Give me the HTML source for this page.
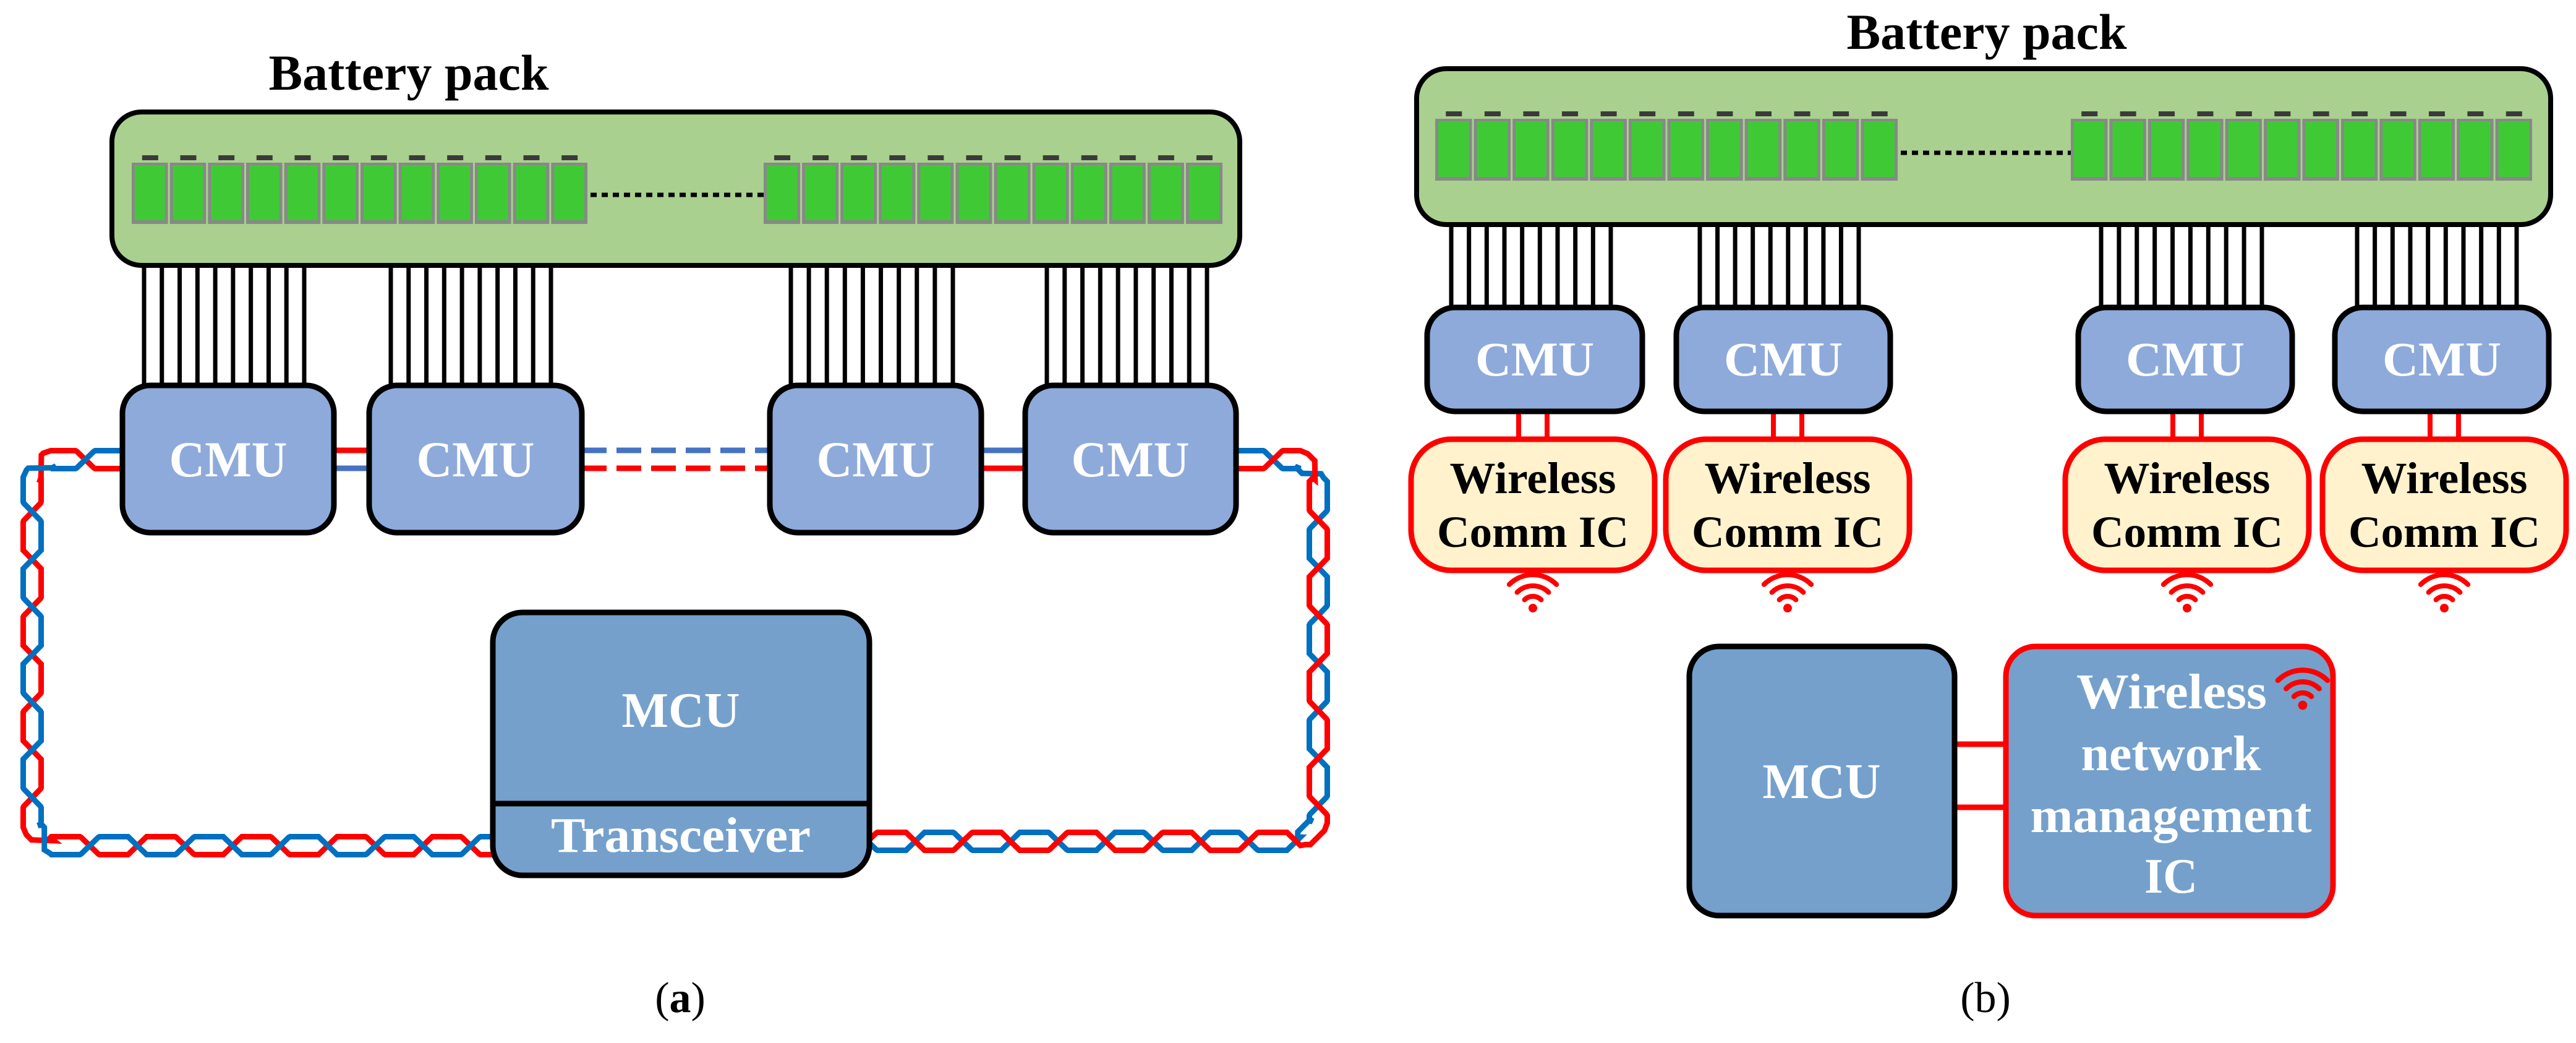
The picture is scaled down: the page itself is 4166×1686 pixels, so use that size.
<!DOCTYPE html>
<html><head><meta charset="utf-8"><style>
html,body{margin:0;padding:0;background:#fff;}
svg{display:block;}
text{font-family:"Liberation Serif",serif;font-weight:bold;}
</style></head><body>
<svg id="s" width="4166" height="1686" viewBox="0 0 4166 1686" xmlns="http://www.w3.org/2000/svg">
<g id="bg"></g>
<!-- (a) -->
<text x="661" y="145" font-size="82" text-anchor="middle" fill="#000" textLength="453" lengthAdjust="spacingAndGlyphs">Battery pack</text>
<rect x="181" y="181" width="1824" height="248" rx="48" fill="#a9d08e" stroke="#000" stroke-width="8"/>
<g id="cellsA"></g>
<line x1="955" y1="315" x2="1235" y2="315" stroke="#000" stroke-width="7" stroke-dasharray="10,8"/>
<g id="wiresA"></g>
<line x1="540" y1="728" x2="600" y2="728" stroke="#f00" stroke-width="9"/>
<line x1="540" y1="757" x2="600" y2="757" stroke="#4472c4" stroke-width="9"/>
<line x1="941" y1="728" x2="1245" y2="728" stroke="#4472c4" stroke-width="9" stroke-dasharray="40,16"/>
<line x1="941" y1="757" x2="1245" y2="757" stroke="#f00" stroke-width="9" stroke-dasharray="40,16"/>
<line x1="1587" y1="728" x2="1658" y2="728" stroke="#4472c4" stroke-width="9"/>
<line x1="1587" y1="757" x2="1658" y2="757" stroke="#f00" stroke-width="9"/>
<g id="braid"></g>
<g fill="#8eaadb" stroke="#000" stroke-width="9">
<rect x="198" y="623" width="342" height="238" rx="45"/>
<rect x="597" y="623" width="344" height="238" rx="45"/>
<rect x="1245" y="623" width="342" height="238" rx="45"/>
<rect x="1658" y="623" width="341" height="238" rx="45"/>
</g>
<g fill="#fff" font-size="82" text-anchor="middle">
<text x="369" y="770" textLength="191" lengthAdjust="spacingAndGlyphs">CMU</text><text x="769" y="770" textLength="191" lengthAdjust="spacingAndGlyphs">CMU</text><text x="1416" y="770" textLength="191" lengthAdjust="spacingAndGlyphs">CMU</text><text x="1828" y="770" textLength="191" lengthAdjust="spacingAndGlyphs">CMU</text>
</g>
<rect x="797" y="990" width="609" height="425" rx="48" fill="#75a0cc" stroke="#000" stroke-width="9"/>
<line x1="797" y1="1299" x2="1406" y2="1299" stroke="#000" stroke-width="9"/>
<text x="1101" y="1175" font-size="80" fill="#fff" text-anchor="middle" textLength="191" lengthAdjust="spacingAndGlyphs">MCU</text>
<text x="1101" y="1377" font-size="80" fill="#fff" text-anchor="middle" textLength="420" lengthAdjust="spacingAndGlyphs">Transceiver</text>
<text x="1100" y="1636" font-size="70" text-anchor="middle" style="font-weight:normal">(<tspan font-weight="bold">a</tspan>)</text>

<!-- (b) -->
<text x="3213" y="79" font-size="82" text-anchor="middle" fill="#000" textLength="453" lengthAdjust="spacingAndGlyphs">Battery pack</text>
<rect x="2291" y="111" width="1834" height="252" rx="48" fill="#a9d08e" stroke="#000" stroke-width="8"/>
<g id="cellsB"></g>
<line x1="3074" y1="247" x2="3349" y2="247" stroke="#000" stroke-width="7" stroke-dasharray="10,8"/>
<g id="wiresB"></g>
<g id="redB"></g>
<g fill="#8eaadb" stroke="#000" stroke-width="9">
<rect x="2308" y="497" width="348" height="168" rx="45"/>
<rect x="2711" y="497" width="346" height="168" rx="45"/>
<rect x="3361" y="497" width="346" height="168" rx="45"/>
<rect x="3776" y="497" width="346" height="168" rx="45"/>
</g>
<g fill="#fff" font-size="78" text-anchor="middle">
<text x="2482" y="607" textLength="192" lengthAdjust="spacingAndGlyphs">CMU</text><text x="2884" y="607" textLength="192" lengthAdjust="spacingAndGlyphs">CMU</text><text x="3534" y="607" textLength="192" lengthAdjust="spacingAndGlyphs">CMU</text><text x="3949" y="607" textLength="192" lengthAdjust="spacingAndGlyphs">CMU</text>
</g>
<g fill="#fff2cc" stroke="#f00" stroke-width="9">
<rect x="2282" y="710" width="394" height="212" rx="65"/>
<rect x="2694" y="710" width="394" height="212" rx="65"/>
<rect x="3340" y="710" width="394" height="212" rx="65"/>
<rect x="3756" y="710" width="394" height="212" rx="65"/>
</g>
<g fill="#000" font-size="72" text-anchor="middle">
<text x="2479" y="797" textLength="269" lengthAdjust="spacingAndGlyphs">Wireless</text><text x="2479" y="884" textLength="310" lengthAdjust="spacingAndGlyphs">Comm IC</text>
<text x="2891" y="797" textLength="269" lengthAdjust="spacingAndGlyphs">Wireless</text><text x="2891" y="884" textLength="310" lengthAdjust="spacingAndGlyphs">Comm IC</text>
<text x="3537" y="797" textLength="269" lengthAdjust="spacingAndGlyphs">Wireless</text><text x="3537" y="884" textLength="310" lengthAdjust="spacingAndGlyphs">Comm IC</text>
<text x="3953" y="797" textLength="269" lengthAdjust="spacingAndGlyphs">Wireless</text><text x="3953" y="884" textLength="310" lengthAdjust="spacingAndGlyphs">Comm IC</text>
</g>
<g id="wifi"></g>
<line x1="3161" y1="1203" x2="3244" y2="1203" stroke="#f00" stroke-width="9"/>
<line x1="3161" y1="1305" x2="3244" y2="1305" stroke="#f00" stroke-width="9"/>
<rect x="2732" y="1045" width="429" height="435" rx="48" fill="#75a0cc" stroke="#000" stroke-width="9"/>
<rect x="3244" y="1045" width="529" height="435" rx="48" fill="#75a0cc" stroke="#f00" stroke-width="9"/>
<text x="2946" y="1290" font-size="80" fill="#fff" text-anchor="middle" textLength="191" lengthAdjust="spacingAndGlyphs">MCU</text>
<g fill="#fff" font-size="80" text-anchor="middle">
<text x="3512" y="1145" textLength="308" lengthAdjust="spacingAndGlyphs">Wireless</text>
<text x="3511" y="1245" textLength="291" lengthAdjust="spacingAndGlyphs">network</text>
<text x="3511" y="1345" textLength="455" lengthAdjust="spacingAndGlyphs">management</text>
<text x="3511" y="1443" textLength="86" lengthAdjust="spacingAndGlyphs">IC</text>
</g>
<g id="wifi2"></g>
<text x="3211" y="1636" font-size="70" text-anchor="middle" style="font-weight:normal">(b)</text>
</svg>
<script>
var NS="http://www.w3.org/2000/svg";
function el(p,t,a){var e=document.createElementNS(NS,t);for(var k in a)e.setAttribute(k,a[k]);document.getElementById(p).appendChild(e);return e;}
function cells(id,x0,x1,y0,y1){var n=12,p=(x1-x0)/n;for(var i=0;i<n;i++){var x=x0+i*p;
el(id,'rect',{x:x,y:y0+12,width:p-3,height:y1-y0-12,fill:'#888'});
el(id,'rect',{x:x+5,y:y0+16,width:p-13,height:y1-y0-22,fill:'#3fca35'});
el(id,'rect',{x:x+p/2-14,y:y0,width:26,height:8,fill:'#3a3a3a'});}}
cells('cellsA',213,953,251,362);cells('cellsA',1235,1980,251,362);
cells('cellsB',2321,3072,180,292);cells('cellsB',3349,4098,180,292);
function wires(id,x0,x1,y0,y1){for(var i=0;i<10;i++){var x=x0+(x1-x0)*i/9;el(id,'line',{x1:x,y1:y0,x2:x,y2:y1,stroke:'#000','stroke-width':7});}}
wires('wiresA',233,492,430,625);wires('wiresA',632,891,430,625);wires('wiresA',1279,1541,430,625);wires('wiresA',1693,1952,430,625);
wires('wiresB',2347,2605,363,500);wires('wiresB',2749,3006,363,500);wires('wiresB',3398,3658,363,500);wires('wiresB',3812,4070,363,500);
[2479,2891,3537,3953].forEach(function(c){
el('redB','line',{x1:c-23,y1:665,x2:c-23,y2:712,stroke:'#f00','stroke-width':8});
el('redB','line',{x1:c+23,y1:665,x2:c+23,y2:712,stroke:'#f00','stroke-width':8});});
function wifi(g,cx,cy,s){
[54,36,19].forEach(function(r){r*=s;var a=Math.PI/4;
el(g,'path',{d:'M'+(cx-r*Math.sin(a))+' '+(cy-r*Math.cos(a))+' A'+r+' '+r+' 0 0 1 '+(cx+r*Math.sin(a))+' '+(cy-r*Math.cos(a)),fill:'none',stroke:'#f00','stroke-width':8*s,'stroke-linecap':'round'});});
el(g,'circle',{cx:cx,cy:cy,r:7*s,fill:'#f00'});}
[2479,2891,3537,3953].forEach(function(c){wifi('wifi',c,983,1);});
wifi('wifi2',3724,1140,1.05);
function braid(pts,phase,colA,colB){
var segs=[],L=0;for(var i=0;i<pts.length-1;i++){var dx=pts[i+1][0]-pts[i][0],dy=pts[i+1][1]-pts[i][1],l=Math.hypot(dx,dy);segs.push({p:pts[i],dx:dx/l,dy:dy/l,l:l,s:L});L+=l;}
function f(s){var t=((s+phase)%154+154)%154;if(t<47)return 1;if(t<77)return 1-2*(t-47)/30;if(t<124)return -1;return -1+2*(t-124)/30;}
var A=[],B=[];for(var s=0;s<=L;s+=2){var g=segs[0];for(var j=0;j<segs.length;j++)if(s>=segs[j].s)g=segs[j];
var x=g.p[0]+g.dx*(s-g.s),y=g.p[1]+g.dy*(s-g.s),nx=-g.dy,ny=g.dx,o=14.5*f(s);
A.push((x+nx*o).toFixed(1)+','+(y+ny*o).toFixed(1));B.push((x-nx*o).toFixed(1)+','+(y-ny*o).toFixed(1));}
el('braid','polyline',{points:B.join(' '),fill:'none',stroke:colB,'stroke-width':9,'stroke-linejoin':'miter'});
el('braid','polyline',{points:A.join(' '),fill:'none',stroke:colA,'stroke-width':9,'stroke-linejoin':'miter'});}
braid([[200,743],[80,743],[52,771],[52,1338],[80,1367],[800,1367]],0,'#0070c0','#f00');
braid([[1997,743],[2104,743],[2132,771],[2132,1332],[2104,1360],[1404,1360]],0,'#f00','#0070c0');
</script>
</body></html>
